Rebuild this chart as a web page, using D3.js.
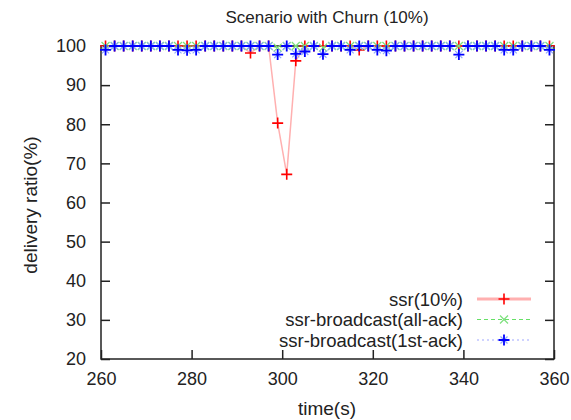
<html>
<script src="https://d3js.org/d3.v7.min.js"></script>
<style>
body { margin: 0; background: #fff; font-family: "Liberation Sans", Arial, sans-serif; }
text { fill: #222; }
</style>
<body>
<svg width="571" height="420"></svg>
<script>
// sample times (every 2 s)
var times = d3.range(261, 361, 2);

// ssr(10%) - dips around the churn event
var ssrDips = { 293: 98.2, 299: 80.3, 301: 67.2, 303: 96.2, 317: 99.0 };
// ssr-broadcast(all-ack)
var allAckDips = { 299: 99.6, 309: 99.6 };
// ssr-broadcast(1st-ack)
var firstAckDips = { 261: 99.0, 277: 99.0, 279: 98.9, 281: 99.0, 299: 97.8, 303: 98.0, 305: 98.6,
  309: 97.9, 315: 99.0, 321: 99.0, 323: 98.8, 339: 97.8, 349: 99.0, 351: 99.0, 359: 99.0 };

var ssrVals = times.map(function(t) { return ssrDips[t] !== undefined ? ssrDips[t] : 100; });
var allAckVals = times.map(function(t) { return allAckDips[t] !== undefined ? allAckDips[t] : 100; });
var firstAckVals = times.map(function(t) { return firstAckDips[t] !== undefined ? firstAckDips[t] : 100; });

var xTicks = [260, 280, 300, 320, 340, 360];
var yTicks = [20, 30, 40, 50, 60, 70, 80, 90, 100];

var svg = d3.select("svg");
var pLeft = 101, pRight = 554, pTop = 46, pBottom = 359;

var x = d3.scaleLinear().domain([260, 360]).range([pLeft, pRight]);
var y = d3.scaleLinear().domain([20, 100]).range([pBottom, pTop]);

// axes with inward ticks
svg.append("g").attr("transform", "translate(0," + pBottom + ")")
  .call(d3.axisBottom(x).tickValues(xTicks).tickSize(-9).tickPadding(13))
  .call(function(g) { g.select(".domain").remove(); });
svg.append("g").attr("transform", "translate(" + pLeft + ",0)")
  .call(d3.axisLeft(y).tickValues(yTicks).tickSize(-9).tickPadding(15))
  .call(function(g) { g.select(".domain").remove(); });
svg.append("g").attr("transform", "translate(" + pRight + ",0)")
  .call(d3.axisRight(y).tickValues(yTicks).tickSize(-9).tickFormat(""))
  .call(function(g) { g.select(".domain").remove(); });
svg.selectAll(".tick line").attr("stroke", "#222").attr("stroke-width", 1.5);
svg.selectAll(".tick text").attr("font-size", 18).attr("fill", "#222")
  .attr("font-family", "Liberation Sans, Arial, sans-serif");

// frame
svg.append("rect").attr("x", pLeft).attr("y", pTop).attr("width", pRight - pLeft).attr("height", pBottom - pTop)
  .attr("fill", "none").attr("stroke", "#222").attr("stroke-width", 1.5);

var line = d3.line().x(function(d) { return x(d[0]); }).y(function(d) { return y(d[1]); });

function plusPath(s) { return "M" + (-s) + ",0H" + s + "M0," + (-s) + "V" + s; }
function crossPath(s) { return "M" + (-s) + "," + (-s) + "L" + s + "," + s + "M" + (-s) + "," + s + "L" + s + "," + (-s); }

var series = [
  { name: "ssr(10%)", vals: ssrVals, line: "#ffb0b0", mark: "#ff0000", dash: null, width: 1.5 },
  { name: "ssr-broadcast(all-ack)", vals: allAckVals, line: "#66e066", mark: "#7ee07e", dash: "4,3", width: 1 },
  { name: "ssr-broadcast(1st-ack)", vals: firstAckVals, line: "#a0a8ff", mark: "#0000ff", dash: "2,3", width: 1 }
];

// draw one point marker for series i
function marker(g, i, s) {
  if (i === 0) {
    g.append("path").attr("d", plusPath(5.5)).attr("stroke", s.mark).attr("stroke-width", 1.6).attr("fill", "none");
  } else if (i === 1) {
    g.append("path").attr("d", crossPath(4)).attr("stroke", s.mark).attr("stroke-width", 1.2).attr("fill", "none");
  } else {
    g.append("path").attr("d", crossPath(3.5)).attr("stroke", "#8fa8ff").attr("stroke-width", 1.2).attr("fill", "none");
    g.append("path").attr("d", plusPath(5.5)).attr("stroke", s.mark).attr("stroke-width", 1.8).attr("fill", "none");
  }
}

series.forEach(function(s, si) {
  var pts = times.map(function(t, i) { return [t, s.vals[i]]; });
  svg.append("path").datum(pts).attr("d", line).attr("fill", "none")
    .attr("stroke", s.line).attr("stroke-width", s.width).attr("stroke-dasharray", s.dash);
  svg.append("g").selectAll("g").data(pts).enter().append("g")
    .attr("transform", function(d) { return "translate(" + x(d[0]) + "," + y(d[1]) + ")"; })
    .each(function() { marker(d3.select(this), si, s); });
});

// legend
var legend = svg.append("g");
series.forEach(function(s, i) {
  var ly = 299 + i * 20.5;
  legend.append("text").attr("x", 463).attr("y", ly + 6.5).attr("text-anchor", "end")
    .attr("font-size", 18.5).text(s.name);
  legend.append("line").attr("x1", 477).attr("x2", 531).attr("y1", ly).attr("y2", ly)
    .attr("stroke", s.line).attr("stroke-width", i === 0 ? 3 : 1.2).attr("stroke-dasharray", s.dash);
  marker(legend.append("g").attr("transform", "translate(504," + ly + ")"), i, s);
});

// title and axis labels
svg.append("text").attr("x", 327).attr("y", 23).attr("text-anchor", "middle")
  .attr("font-size", 17).text("Scenario with Churn (10%)");
svg.append("text").attr("x", 327).attr("y", 415).attr("text-anchor", "middle")
  .attr("font-size", 19).text("time(s)");
svg.append("text").attr("transform", "translate(37,205) rotate(-90)").attr("text-anchor", "middle")
  .attr("font-size", 19).text("delivery ratio(%)");
</script>
</body>
</html>
